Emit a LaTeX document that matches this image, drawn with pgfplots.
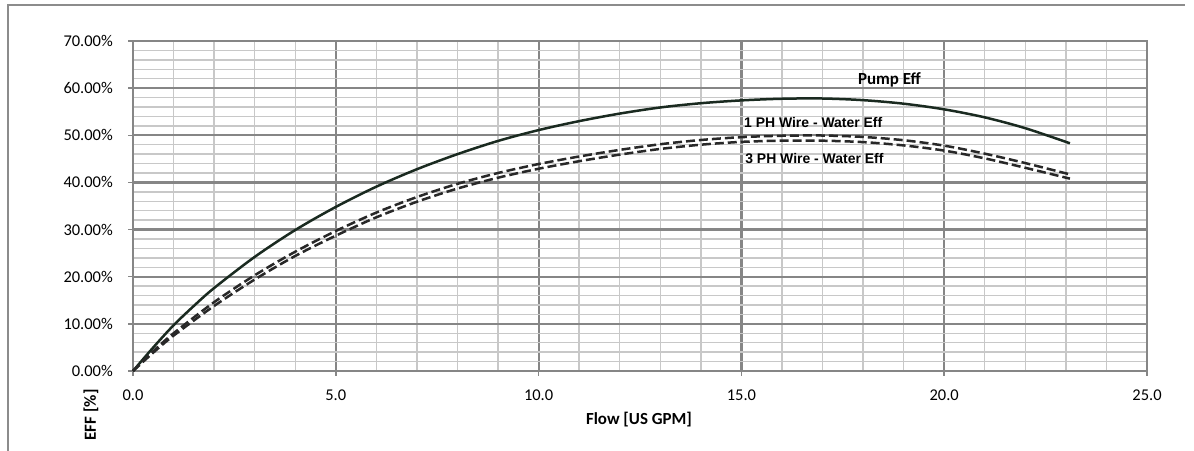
\documentclass[border=0pt]{standalone}
\usepackage{pgfplots}
\pgfplotsset{compat=1.18}
\usepackage{fontspec}
\setmainfont{Carlito}
\newfontfamily\arialf{Liberation Sans}
\definecolor{majgrid}{RGB}{134,134,134}
\definecolor{mingrid}{RGB}{200,200,200}
\definecolor{bordc}{RGB}{140,140,140}
\definecolor{pumpc}{RGB}{26,42,32}
\definecolor{wirec}{RGB}{40,40,40}
\pgfplotstableread{
x y
0 0
0.5 5.0
1 9.7
1.5 13.8
2 17.6
3 24.2
4 29.9
5 34.8
6 39.1
7 42.8
8 46.0
9 48.8
10 51.1
11 53.0
12 54.6
13 55.9
14 56.8
15 57.4
16 57.75
17 57.8
18 57.45
19 56.7
20 55.5
21 53.8
22 51.5
23.1 48.3
}\pumptab
\pgfplotstableread{
x y
0 0
0.5 4.2
1 8.0
2 14.6
3 20.3
4 25.3
5 29.7
6 33.6
7 36.9
8 39.7
9 42.0
10 43.9
11 45.5
12 46.9
13 48.1
14 49.0
15 49.6
16 49.9
17 49.95
18 49.65
19 48.95
20 47.8
21 46.1
22 44.1
23.1 41.7
}\onetab
\pgfplotstableread{
x y
0 0
0.5 3.9
1 7.5
2 13.8
3 19.4
4 24.4
5 28.7
6 32.6
7 35.9
8 38.7
9 41.0
10 42.9
11 44.5
12 45.9
13 47.1
14 48.0
15 48.6
16 48.85
17 48.85
18 48.55
19 47.85
20 46.75
21 45.1
22 43.1
23.1 40.8
}\threetab
\begin{document}
\begin{tikzpicture}[x=1bp,y=1bp]
\useasboundingbox (0,0) rectangle (1194,451);
\draw[bordc, line width=1.5bp] (8,0) -- (8,446) -- (1185,446);
\begin{axis}[
  at={(133bp,80bp)}, anchor=south west,
  width=1014bp, height=330bp, scale only axis,
  xmin=0, xmax=25, ymin=0, ymax=70,
  xtick={0,5,10,15,20,25},
  xticklabels={0.0,5.0,10.0,15.0,20.0,25.0},
  ytick={0,10,20,30,40,50,60,70},
  yticklabels={0.00\%,10.00\%,20.00\%,30.00\%,40.00\%,50.00\%,60.00\%,70.00\%},
  minor x tick num=4, minor y tick num=4,
  grid=both,
  major grid style={majgrid, line width=2.2bp},
  minor grid style={mingrid, line width=1.4bp},
  axis line style={majgrid, line width=2.5bp},
  tick align=outside, major tick length=5bp, minor tick length=0pt,
  tick style={majgrid, line width=1.5bp},
  xtick pos=bottom, ytick pos=left,
  ticklabel style={font=\fontsize{16.5}{19}\selectfont, inner sep=0pt},
  yticklabel style={anchor=east, xshift=-15bp},
  xticklabel style={anchor=north, yshift=-14bp},
  clip=false,
]
\addplot[pumpc, line width=2.5bp, smooth] table[x=x,y=y] {\pumptab};
\addplot[wirec, line width=2.5bp, smooth, dash pattern=on 9bp off 4bp] table[x=x,y=y] {\onetab};
\addplot[wirec, line width=2.5bp, smooth, dash pattern=on 9bp off 4bp] table[x=x,y=y] {\threetab};
\node[font=\fontsize{17}{20}\selectfont\bfseries] at (axis cs:18.65,61.7) {Pump Eff};
\node[font=\arialf\fontsize{14}{17}\selectfont\bfseries] at (axis cs:16.77,52.8) {1 PH Wire - Water Eff};
\node[font=\arialf\fontsize{14}{17}\selectfont\bfseries] at (axis cs:16.80,45.0) {3 PH Wire - Water Eff};
\end{axis}
\node[font=\fontsize{17}{20}\selectfont\bfseries] at (639,31) {Flow [US GPM]};
\node[font=\fontsize{17}{20}\selectfont\bfseries, rotate=90] at (91,36) {EFF [\%]};
\end{tikzpicture}
\end{document}
